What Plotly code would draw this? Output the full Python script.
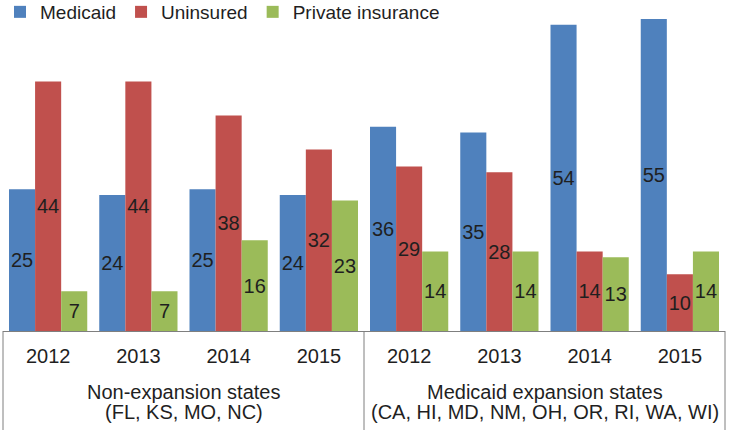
import plotly.graph_objects as go

years = ["2012", "2013", "2014", "2015", "2012", "2013", "2014", "2015"]
group_names = ["Non-expansion states", "Medicaid expansion states"]
group_states = ["(FL, KS, MO, NC)", "(CA, HI, MD, NM, OH, OR, RI, WA, WI)"]
group_sizes = [4, 4]

medicaid = [25, 24, 25, 24, 36, 35, 54, 55]
uninsured = [44, 44, 38, 32, 29, 28, 14, 10]
private = [7, 7, 16, 23, 14, 14, 13, 14]

series = [
    ("Medicaid", medicaid, "#4F81BD"),
    ("Uninsured", uninsured, "#C0504D"),
    ("Private insurance", private, "#9BBB59"),
]

FONT = "Liberation Sans, Arial, sans-serif"
TXT = "#1f1f1f"
LINE = "#7f7f7f"

xpos = list(range(len(years)))

fig = go.Figure()
for name, vals, color in series:
    fig.add_trace(go.Bar(
        x=xpos, y=vals, name=name,
        marker=dict(color=color, line=dict(width=0)),
        text=[str(v) for v in vals],
        textposition="inside", insidetextanchor="middle", textangle=0,
        constraintext="none",
        textfont=dict(family=FONT, size=20, color=TXT),
        hoverinfo="skip",
    ))

# group labels and box dividers
H_PLOT = 321.0
annotations = []
shapes = []
start = 0
for gname, gstates, gsize in zip(group_names, group_states, group_sizes):
    center = start + (gsize - 1) / 2
    annotations.append(dict(x=center, xref="x", y=-61 / H_PLOT, yref="paper",
                            text=gname, showarrow=False, yanchor="middle",
                            font=dict(family=FONT, size=20, color=TXT)))
    annotations.append(dict(x=center, xref="x", y=-81 / H_PLOT, yref="paper",
                            text=gstates, showarrow=False, yanchor="middle",
                            font=dict(family=FONT, size=20, color=TXT)))
    start += gsize

n = len(years)
bounds = [0]
acc = 0
for gsize in group_sizes:
    acc += gsize
    bounds.append(acc / n)
for b in bounds:
    shapes.append(dict(type="line", xref="paper", yref="paper",
                       x0=b, x1=b, y0=0, y1=-110 / H_PLOT,
                       line=dict(color=LINE, width=1)))

fig.update_layout(
    width=731, height=430,
    margin=dict(l=3, r=6, t=10, b=99, autoexpand=False),
    paper_bgcolor="white", plot_bgcolor="white",
    barmode="group", bargap=0.133, bargroupgap=0,
    font=dict(family=FONT, size=20, color=TXT),
    showlegend=True,
    legend=dict(orientation="h", xref="container", x=0, y=(331 - 12) / H_PLOT,
                xanchor="left", yanchor="middle",
                font=dict(family=FONT, size=19, color=TXT),
                bgcolor="rgba(0,0,0,0)", traceorder="normal"),
    xaxis=dict(range=[-0.5, n - 0.5], tickvals=xpos, ticktext=years,
               showline=True, linecolor=LINE, linewidth=1,
               ticks="", tickfont=dict(size=20, color=TXT), ticklabelstandoff=7,
               showgrid=False, zeroline=False, automargin=False, fixedrange=True),
    yaxis=dict(range=[0, 56.6], visible=False, showgrid=False, zeroline=False,
               automargin=False, fixedrange=True),
    annotations=annotations,
    shapes=shapes,
)

fig.write_html("out.html",
               config={"displayModeBar": False, "staticPlot": True},
               post_script="document.body.style.margin='0';document.body.style.overflow='hidden';")
